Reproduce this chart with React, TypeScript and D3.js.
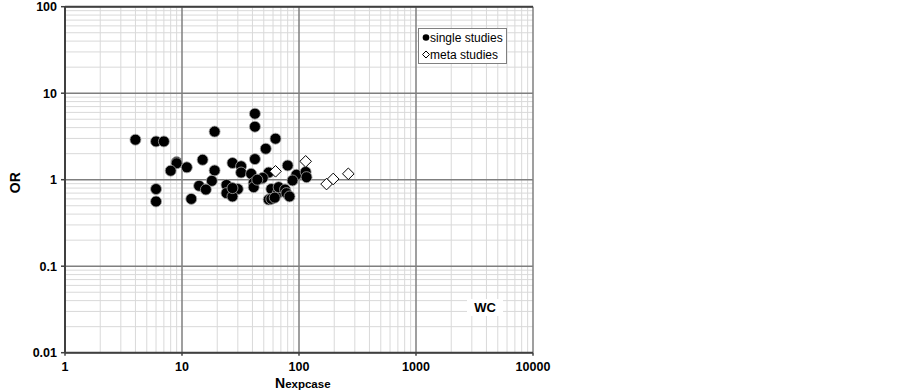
import React from "react";
import * as d3 from "d3";

// single studies: [Nexpcase, OR]
const singleN = [4, 6, 7, 9, 9, 8, 11, 6, 6, 12, 42, 42, 19, 52, 15, 19, 18, 14, 16, 27, 32, 32, 42, 39, 41, 41, 48, 55, 24, 24, 30, 27, 27, 55, 63, 80, 49, 95, 88, 114, 116, 58, 58, 66, 67, 62, 76, 78, 83, 44];
const singleOR = [2.9, 2.77, 2.77, 1.6, 1.55, 1.27, 1.39, 0.78, 0.56, 0.6, 5.8, 4.1, 3.6, 2.28, 1.7, 1.28, 0.97, 0.85, 0.77, 1.56, 1.43, 1.21, 1.73, 1.17, 0.92, 0.82, 1.03, 1.21, 0.87, 0.7, 0.78, 0.64, 0.8, 0.59, 2.98, 1.46, 1.05, 1.14, 0.98, 1.23, 1.07, 0.78, 0.6, 0.7, 0.82, 0.62, 0.77, 0.7, 0.64, 1.0];

// meta studies
const metaN = [63, 114, 172, 196, 264];
const metaOR = [1.25, 1.63, 0.89, 1.02, 1.17];

const xTicks = [1, 10, 100, 1000, 10000];
const yTicks = [0.01, 0.1, 1, 10, 100];

const W = 902;
const H = 392;

function minorValues(lo: number, hi: number) {
  const out: number[] = [];
  for (let p = lo; p < hi; p *= 10) {
    for (let k = 2; k <= 9; k++) out.push(p * k);
  }
  return out;
}

export default function App() {
  const x = d3.scaleLog().domain([1, 10000]).range([65, 533]);
  const y = d3.scaleLog().domain([0.01, 100]).range([352.7, 6.7]);
  const [x0, x1] = x.range();
  const [y0, y1] = y.range();
  const font = "'Liberation Sans', Arial, sans-serif";
  const diamond = (cx: number, cy: number, r: number) =>
    `M${cx},${cy - r}L${cx + r},${cy}L${cx},${cy + r}L${cx - r},${cy}Z`;

  return (
    <svg
      width={W}
      height={H}
      style={{ position: "absolute", left: 0, top: 0, background: "#fff" }}
      fontFamily={font}
    >
      <rect x={0} y={0} width={W} height={H} fill="#fff" />
      {/* minor grid */}
      {minorValues(1, 10000).map((v) => (
        <line key={"mx" + v} x1={x(v)} x2={x(v)} y1={y1} y2={y0} stroke="#d9d9d9" strokeWidth={1} />
      ))}
      {minorValues(0.01, 100).map((v) => (
        <line key={"my" + v} x1={x0} x2={x1} y1={y(v)} y2={y(v)} stroke="#d9d9d9" strokeWidth={1} />
      ))}
      {/* major grid */}
      {xTicks.map((v) => (
        <line key={"gx" + v} x1={x(v)} x2={x(v)} y1={y1} y2={y0} stroke="#7f7f7f" strokeWidth={1.5} />
      ))}
      {yTicks.map((v) => (
        <line key={"gy" + v} x1={x0} x2={x1} y1={y(v)} y2={y(v)} stroke="#7f7f7f" strokeWidth={1.5} />
      ))}
      {/* frame / axes */}
      <line x1={x0} x2={x1} y1={y1} y2={y1} stroke="#404040" strokeWidth={2} />
      <line x1={x0} x2={x0} y1={y1} y2={y0} stroke="#404040" strokeWidth={2} />
      <line x1={x0} x2={x1} y1={y0} y2={y0} stroke="#404040" strokeWidth={2} />

      {/* ticks + labels */}
      {yTicks.map((v) => (
        <g key={"ty" + v}>
          <line x1={x0 - 4} x2={x0} y1={y(v)} y2={y(v)} stroke="#404040" strokeWidth={1.5} />
          <text x={x0 - 8} y={y(v)} dy="0.35em" textAnchor="end" fontSize={12.5} fontWeight="bold">
            {v}
          </text>
        </g>
      ))}
      {xTicks.map((v) => (
        <g key={"tx" + v}>
          <line x1={x(v)} x2={x(v)} y1={y0} y2={y0 + 3} stroke="#404040" strokeWidth={1.5} />
          <text x={x(v)} y={y0 + 14} dy="0.35em" textAnchor="middle" fontSize={12.5} fontWeight="bold">
            {v}
          </text>
        </g>
      ))}

      {/* axis titles */}
      <text
        transform={`translate(20,${(y0 + y1) / 2 + 3}) rotate(-90)`}
        textAnchor="middle"
        fontSize={14}
        fontWeight="bold"
      >
        OR
      </text>
      <text x={275} y={388} fontWeight="bold">
        <tspan fontSize={14}>N</tspan>
        <tspan fontSize={11.5}>expcase</tspan>
      </text>

      {/* data */}
      {singleN.map((n, i) => (
        <circle key={"s" + i} cx={x(n)} cy={y(singleOR[i])} r={5.5} fill="#000" stroke="#a6a6a6" strokeWidth={0.8} />
      ))}
      {metaN.map((n, i) => (
        <path key={"m" + i} d={diamond(x(n), y(metaOR[i]), 5.8)} fill="#fff" stroke="#000" strokeWidth={1} />
      ))}

      {/* legend */}
      <rect x={418.5} y={28.5} width={88} height={35} fill="#fff" stroke="#808080" strokeWidth={1} />
      <circle cx={426} cy={37.5} r={3.3} fill="#000" />
      <text x={430} y={37.5} dy="0.35em" fontSize={12}>
        single studies
      </text>
      <path d={diamond(426, 54.5, 3.5)} fill="#fff" stroke="#000" strokeWidth={1} />
      <text x={430} y={54.5} dy="0.35em" fontSize={12}>
        meta studies
      </text>

      {/* panel label */}
      <rect x={467} y={299} width={36} height={17} fill="#fff" />
      <text x={485} y={307.5} dy="0.35em" textAnchor="middle" fontSize={13} fontWeight="bold">
        WC
      </text>
    </svg>
  );
}
